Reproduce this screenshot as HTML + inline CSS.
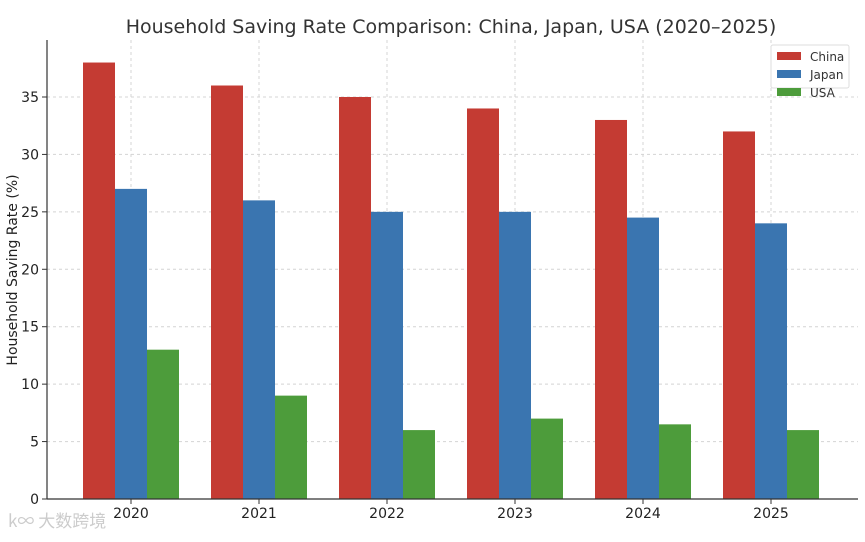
<!DOCTYPE html>
<html><head><meta charset="utf-8"><style>
body{margin:0;background:#fff;}
svg{font-family:"DejaVu Sans","Liberation Sans",sans-serif;}
</style></head><body>
<svg id="chart" width="865" height="537">
<text x="451" y="33" text-anchor="middle" font-size="19" fill="#333">Household Saving Rate Comparison: China, Japan, USA (2020–2025)</text>
<text transform="translate(17,270) rotate(-90)" text-anchor="middle" font-size="14" fill="#222">Household Saving Rate (%)</text>
<g id="grid"></g><g id="bars"></g><g id="axes"></g>
<g>
<rect x="771" y="45" width="78" height="43" fill="#fff" stroke="#ddd" rx="2"/>
<rect x="777" y="52" width="24" height="8" fill="#c43b33"/><text x="810" y="61" font-size="12" fill="#333">China</text>
<rect x="777" y="70" width="24" height="8" fill="#3a75b0"/><text x="810" y="79" font-size="12" fill="#333">Japan</text>
<rect x="777" y="88" width="24" height="8" fill="#4d9c3b"/><text x="810" y="97" font-size="12" fill="#333">USA</text>
</g>
<text x="8" y="527" font-size="17" fill="#ccc" font-family="'Noto Sans CJK SC',sans-serif">k∞ 大数跨境</text>
</svg>
<script>
const years=["2020","2021","2022","2023","2024","2025"];
const china=[38,36,35,34,33,32];
const japan=[27,26,25,25,24.5,24];
const usa=[13,9,6,7,6.5,6];
const yTicks=[0,5,10,15,20,25,30,35];
const NS="http://www.w3.org/2000/svg";
const y0=499,ppu=11.486,x0=131,step=128,bw=32;
const Y=v=>y0-v*ppu, X=i=>x0+i*step;
function mk(t,a,p){const e=document.createElementNS(NS,t);for(const k in a)e.setAttribute(k,a[k]);p.appendChild(e);return e;}
const grid=document.getElementById('grid'),bars=document.getElementById('bars'),axes=document.getElementById('axes');
yTicks.forEach(v=>{
 const l=mk('line',{x1:47,x2:858,y1:Y(v),y2:Y(v),stroke:'#d4d4d4','stroke-dasharray':'3,3'},grid);
 
 
 mk('line',{x1:42,x2:47,y1:Y(v),y2:Y(v),stroke:'#333'},axes);
 const t=mk('text',{x:39,y:Y(v)+5,'text-anchor':'end','font-size':14,fill:'#222'},axes);t.textContent=v;
 
 
});
years.forEach((yr,i)=>{
 const l=mk('line',{x1:X(i),x2:X(i),y1:40,y2:y0,stroke:'#d4d4d4','stroke-dasharray':'3,3'},grid);
 
 
 [[china,'#c43b33','china'],[japan,'#3a75b0','japan'],[usa,'#4d9c3b','usa']].forEach((s,j)=>{
  const r=mk('rect',{x:X(i)-bw*1.5+j*bw,y:Y(s[0][i]),width:bw,height:s[0][i]*ppu,fill:s[1]},bars);
  
  
 });
 mk('line',{x1:X(i),x2:X(i),y1:y0,y2:y0+5,stroke:'#333'},axes);
 const t=mk('text',{x:X(i),y:518,'text-anchor':'middle','font-size':14,fill:'#222'},axes);t.textContent=yr;
 
 
});
mk('line',{x1:47,x2:47,y1:40,y2:y0,stroke:'#333','stroke-width':1.2},axes);
mk('line',{x1:47,x2:858,y1:y0,y2:y0,stroke:'#333','stroke-width':1.2},axes);
</script>
</body></html>
